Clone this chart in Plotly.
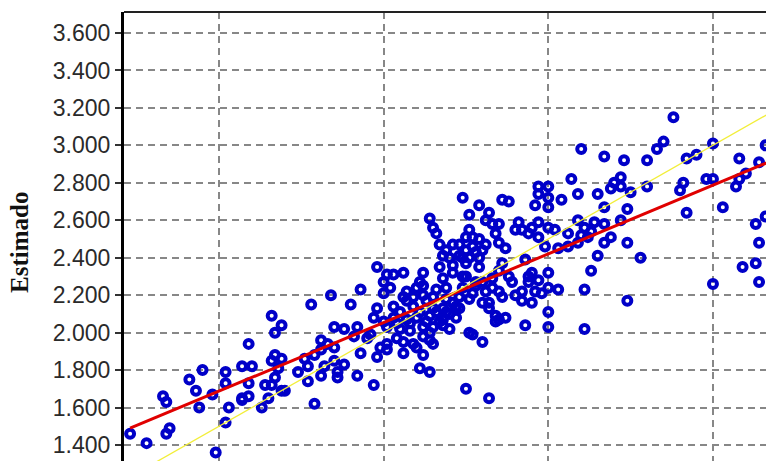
import plotly.graph_objects as go

observado = [
    1.23, 1.28, 1.33, 1.34, 1.34, 1.35, 1.41, 1.43, 1.44, 1.45,
    1.48, 1.49, 1.52, 1.52, 1.53, 1.52, 1.57, 1.59, 1.59, 1.60,
    1.57, 1.59, 1.57, 1.64, 1.63, 1.65, 1.66, 1.67, 1.69, 1.66,
    1.67, 1.69, 1.68, 1.67, 1.66, 1.69, 1.70, 1.77, 1.77, 1.79,
    1.81, 1.81, 1.79, 1.78, 1.81, 1.83, 1.85, 1.85, 1.82, 1.86,
    1.86, 1.84, 1.90, 1.93, 1.98, 2.01, 2.03, 2.06, 2.12, 2.17,
    2.21, 2.25, 2.29, 2.18, 2.21, 2.24, 2.00, 2.00, 2.10, 2.12,
    2.19, 2.24, 2.27, 2.30, 2.31, 2.06, 2.09, 2.12, 2.15, 1.98,
    2.03, 2.05, 2.09, 2.11, 2.15, 2.18, 2.21, 2.32, 1.97, 2.00,
    2.03, 2.07, 2.10, 2.14, 2.16, 2.19, 2.22, 1.85, 1.88, 1.92,
    1.91, 1.96, 2.01, 2.05, 2.08, 2.12, 2.15, 2.18, 2.26, 2.27,
    2.30, 2.01, 2.06, 2.09, 2.12, 2.15, 1.99, 2.01, 2.06, 2.10,
    2.12, 1.98, 1.93, 1.92, 1.97, 2.11, 2.14, 2.25, 2.32, 2.14,
    2.18, 2.35, 2.37, 2.24, 2.29, 2.26, 2.14, 2.15, 2.16, 2.26,
    2.29, 2.31, 2.19, 2.21, 2.23, 2.25, 2.27, 2.30, 2.17, 2.18,
    2.26, 2.29, 2.32, 2.36, 2.38, 2.33, 2.35, 2.25, 2.27, 2.23,
    2.35, 2.37, 2.25, 2.28, 2.36, 2.38, 2.43, 2.41, 2.42, 2.44,
    2.47, 2.47, 2.50, 2.59, 2.61, 2.64, 2.60, 2.62, 2.67, 2.72,
    2.49, 2.53, 2.59, 2.67, 2.69, 2.74, 2.65, 2.63, 2.45, 2.50,
    2.47, 2.44, 2.50, 2.53, 2.46, 2.42, 2.48, 2.42, 2.45, 2.33,
    2.35, 2.36, 2.30, 2.32, 2.34, 2.34, 2.43, 2.50, 2.50, 2.61,
    2.74, 2.61, 2.78, 2.60, 2.67, 2.73, 2.80, 2.57, 2.47, 2.50,
    2.47, 2.50, 2.46, 2.50, 2.54, 2.65, 2.67, 2.69, 2.72, 2.72,
    2.75, 2.74, 2.59, 2.35, 2.88, 2.85, 2.83, 3.00, 2.92, 2.95,
    3.08, 3.14, 3.10, 3.08, 3.07, 2.80, 2.91, 2.90, 2.98, 3.00,
    2.92, 3.03, 3.13, 3.14, 3.16, 3.09, 3.13, 3.14, 3.00, 3.16,
    # additional points in the dense central cloud
    2.04, 2.08, 2.13, 2.17, 2.20, 2.23, 2.07, 2.13, 2.19, 2.23,
    2.02, 2.07, 2.11, 2.16, 2.04, 2.14, 2.20, 2.22, 2.26, 2.28,
    2.20, 2.24, 2.28, 2.33, 2.39, 2.40, 2.44, 2.52, 2.56, 2.45,
    2.40, 2.31, 2.34, 1.74, 1.76, 1.88, 1.95, 2.56, 2.63, 2.70,
]
estimado = [
    1.46, 1.41, 1.66, 1.63, 1.46, 1.49, 1.75, 1.69, 1.60, 1.80,
    1.67, 1.36, 1.79, 1.73, 1.60, 1.52, 1.82, 1.94, 1.73, 1.82,
    1.65, 1.66, 1.64, 1.72, 1.60, 1.65, 2.09, 2.00, 2.04, 1.85,
    1.88, 1.86, 1.81, 1.76, 1.72, 1.69, 1.69, 1.74, 1.82, 1.88,
    1.91, 1.77, 1.62, 2.15, 1.96, 1.94, 1.92, 1.85, 1.82, 1.79,
    1.76, 2.20, 2.15, 2.23, 2.35, 2.31, 2.31, 2.32, 2.32, 2.35,
    2.36, 2.37, 2.35, 2.29, 2.32, 2.30, 2.27, 2.21, 2.24, 2.25,
    2.24, 2.24, 2.21, 2.27, 2.22, 2.19, 2.19, 2.20, 2.19, 2.13,
    2.14, 2.11, 2.14, 2.11, 2.13, 2.13, 2.16, 2.16, 2.08, 2.06,
    2.08, 2.07, 2.08, 2.09, 2.11, 2.11, 2.08, 2.03, 2.02, 2.03,
    1.98, 1.99, 2.03, 2.02, 2.01, 2.03, 2.03, 2.04, 2.00, 1.99,
    1.95, 1.94, 1.95, 1.94, 1.98, 1.94, 1.92, 1.91, 1.89, 1.92,
    1.88, 1.87, 1.89, 1.77, 1.72, 1.81, 1.79, 1.70, 1.65, 1.96,
    2.07, 2.07, 2.08, 2.72, 2.68, 2.63, 2.61, 2.56, 2.53, 2.55,
    2.50, 2.47, 2.44, 2.47, 2.47, 2.44, 2.46, 2.44, 2.47, 2.41,
    2.40, 2.40, 2.64, 2.71, 2.70, 2.58, 2.58, 2.51, 2.51, 2.41,
    2.48, 2.45, 2.30, 2.25, 2.37, 2.30, 2.39, 2.59, 2.55, 2.53,
    2.51, 2.59, 2.56, 2.60, 2.56, 2.59, 2.52, 2.51, 2.58, 2.60,
    2.46, 2.45, 2.48, 2.48, 2.51, 2.48, 2.41, 2.33, 2.32, 2.32,
    2.28, 2.27, 2.24, 2.23, 2.22, 2.22, 2.21, 2.17, 2.16, 2.24,
    2.22, 2.19, 2.16, 2.13, 2.09, 2.06, 2.04, 2.11, 2.03, 2.23,
    2.17, 2.02, 2.40, 2.98, 2.94, 2.92, 2.92, 2.82, 2.78, 2.78,
    2.74, 2.72, 2.68, 2.67, 2.71, 2.74, 2.67, 2.77, 2.83, 2.78,
    2.75, 2.66, 2.74, 2.33, 3.15, 3.02, 2.98, 3.01, 2.93, 2.95,
    2.93, 2.91, 2.85, 2.82, 2.78, 2.78, 2.80, 2.76, 2.82, 2.82,
    2.64, 2.67, 2.58, 2.48, 2.62, 2.35, 2.37, 2.27, 2.26, 3.00,
    # additional points in the dense central cloud
    2.05, 2.05, 2.06, 2.06, 2.10, 2.13, 2.17, 2.17, 2.18, 2.19,
    2.24, 2.22, 2.27, 2.23, 1.97, 2.00, 2.02, 2.14, 2.18, 2.27,
    2.40, 2.40, 2.43, 2.29, 2.27, 2.20, 2.30, 2.55, 2.53, 2.56,
    2.55, 2.60, 2.53, 1.79, 1.86, 1.83, 1.97, 2.46, 2.54, 2.80,
]

# Fitted regression line (Estimado = a + b * Observado)
reg_intercept = 0.588
reg_slope = 0.733

y_tick_values = [1.4, 1.6, 1.8, 2.0, 2.2, 2.4, 2.6, 2.8, 3.0, 3.2, 3.4, 3.6]
y_tick_labels = [f"{v:.3f}" for v in y_tick_values]
x_grid_values = [1.5, 2.0, 2.5, 3.0]

x_range = [1.2115, 3.1611]
y_range = [1.3146, 3.7121]

reg_x = [min(observado), x_range[1] + 0.2]
reg_y = [reg_intercept + reg_slope * v for v in reg_x]
ident_x = [x_range[0] - 0.2, x_range[1] + 0.2]

fig = go.Figure()
fig.add_trace(go.Scatter(
    x=observado, y=estimado, mode="markers",
    marker=dict(symbol="circle-open", size=8, color="#0000C8",
                line=dict(width=4, color="#0000C8")),
    showlegend=False, hoverinfo="skip",
))
fig.add_trace(go.Scatter(
    x=reg_x, y=reg_y, mode="lines",
    line=dict(color="#E00000", width=3), showlegend=False, hoverinfo="skip",
))
fig.add_trace(go.Scatter(
    x=ident_x, y=ident_x, mode="lines",
    line=dict(color="#F2EE3A", width=1.3), showlegend=False, hoverinfo="skip",
))

fig.update_layout(
    width=766, height=461,
    margin=dict(l=124, r=0, t=12, b=0),
    paper_bgcolor="white", plot_bgcolor="white",
    font=dict(family="Liberation Sans, Arial, sans-serif", color="#2a2a2a"),
    xaxis=dict(
        range=x_range, tickvals=x_grid_values, showticklabels=False,
        showgrid=True, gridcolor="#878787", gridwidth=1.6, griddash="7px,5px",
        zeroline=False, showline=False, ticks="",
    ),
    yaxis=dict(
        range=y_range, tickvals=y_tick_values, ticktext=y_tick_labels,
        showgrid=True, gridcolor="#878787", gridwidth=1.6, griddash="7px,5px",
        zeroline=False, showline=True, linecolor="black", linewidth=3,
        ticks="outside", ticklen=6, tickwidth=1.5, tickcolor="#333333",
        tickfont=dict(size=23, family="Liberation Sans, Arial, sans-serif", color="#2a2a2a"),
    ),
    shapes=[dict(type="line", xref="paper", yref="paper", x0=0, x1=1, y0=1, y1=1,
                 line=dict(color="#222222", width=2))],
    annotations=[dict(
        text="<b>Estimado</b>", textangle=-90, xref="paper", yref="paper",
        x=-0.162, y=0.488, xanchor="center", yanchor="middle", showarrow=False,
        font=dict(size=25, family="Liberation Serif, Times New Roman, serif", color="#111111"),
    )],
)

page_css = (
    "document.documentElement.style.margin='0';"
    "document.documentElement.style.overflow='hidden';"
    "document.body.style.margin='0';"
    "document.body.style.overflow='hidden';"
)
fig.write_html("out.html", post_script=page_css, config={"displayModeBar": False})
